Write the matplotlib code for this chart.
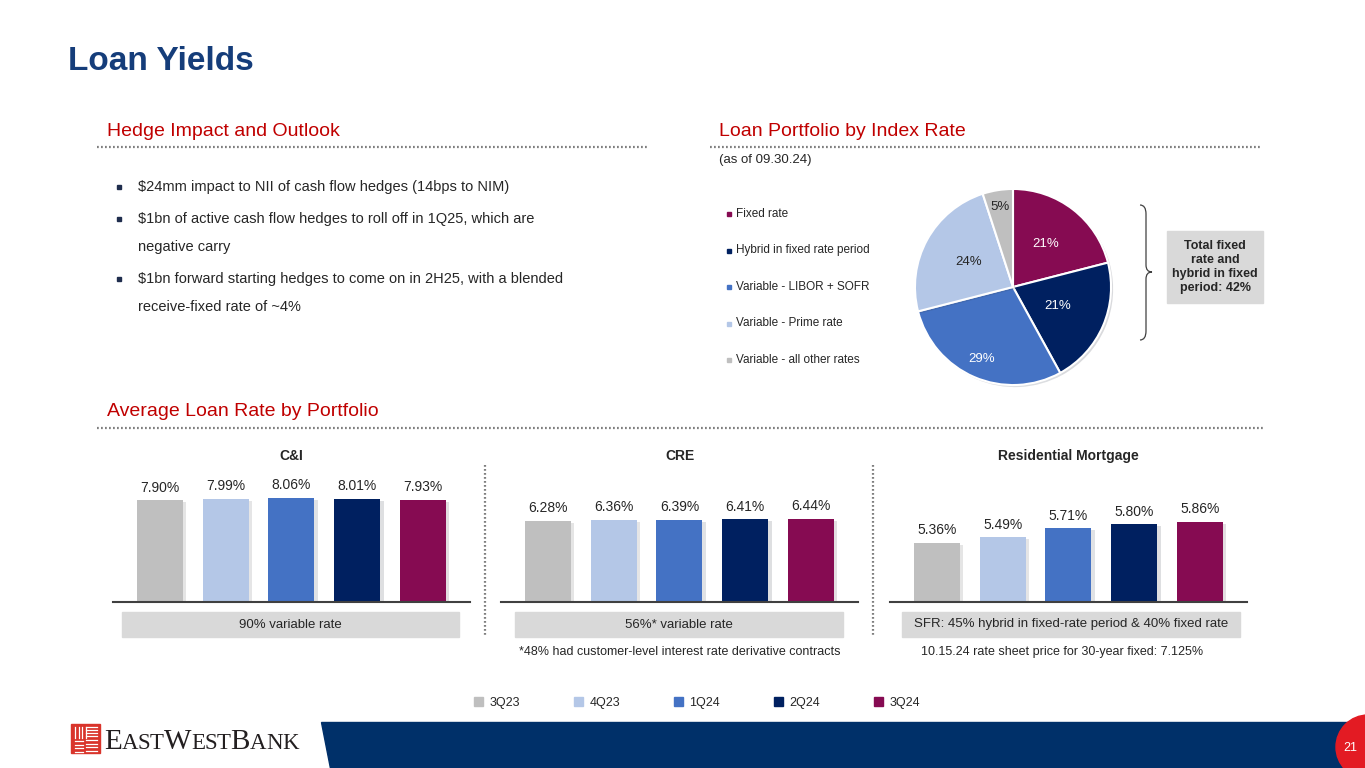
import matplotlib
matplotlib.use('Agg')
import matplotlib.pyplot as plt
import matplotlib.patheffects as pe
from matplotlib.patches import Rectangle, Polygon, Circle, PathPatch, Patch
from matplotlib.path import Path

plt.rcParams['font.family'] = ['Liberation Sans', 'DejaVu Sans']

# ---- data ----
quarters = ['3Q23', '4Q23', '1Q24', '2Q24', '3Q24']
ci_rate = [7.90, 7.99, 8.06, 8.01, 7.93]
cre_rate = [6.28, 6.36, 6.39, 6.41, 6.44]
resi_rate = [5.36, 5.49, 5.71, 5.80, 5.86]

index_labels = ['Fixed rate', 'Hybrid in fixed rate period', 'Variable - LIBOR + SOFR',
                'Variable - Prime rate', 'Variable - all other rates']
index_share = [21, 21, 29, 24, 5]

bullets = ['$24mm impact to NII of cash flow hedges (14bps to NIM)',
           '$1bn of active cash flow hedges to roll off in 1Q25, which are\nnegative carry',
           '$1bn forward starting hedges to come on in 2H25, with a blended\nreceive-fixed rate of ~4%']

q_colors = ['#BFBFBF', '#B4C7E7', '#4472C4', '#002060', '#860B52']
NAVY = '#153D7A'
RED = '#C00000'
TXT = '#262626'

W, H = 1365, 768
fig = plt.figure(figsize=(W / 100, H / 100), dpi=100)
ax0 = fig.add_axes([0, 0, 1, 1])
ax0.set_xlim(0, W)
ax0.set_ylim(H, 0)
ax0.axis('off')


def px_axes(left, top, width, height):
    return fig.add_axes([left / W, 1 - (top + height) / H, width / W, height / H])


def dotted(x0, x1, y0, y1):
    ax0.plot([x0, x1], [y0, y1], color='#7F7F7F', lw=1.6, ls=(0, (0.8, 1.0)))


# title + section headers
ax0.text(68, 62, 'Loan Yields', fontsize=24, fontweight='bold', color=NAVY, va='center')
ax0.text(107, 131, 'Hedge Impact and Outlook', fontsize=14, color=RED, va='center')
ax0.text(719, 131, 'Loan Portfolio by Index Rate', fontsize=14, color=RED, va='center')
ax0.text(107, 411, 'Average Loan Rate by Portfolio', fontsize=14, color=RED, va='center')
dotted(97, 648, 147, 147)
dotted(710, 1262, 147, 147)
dotted(97, 1265, 428, 428)

# bullets
by = 187
for b in bullets:
    ax0.plot(119, by, marker='s', ms=3, color='#1F2D4D')
    for line in b.split('\n'):
        ax0.text(138, by, line, fontsize=10.5, color=TXT, va='center')
        by += 28
    by += 4

# pie section
ax0.text(719, 160, '(as of 09.30.24)', fontsize=9.5, color=TXT, va='center')
for i, lab in enumerate(index_labels):
    y = 214 + 36.5 * i
    ax0.plot(729, y, marker='s', ms=3, color=q_colors[[4, 3, 2, 1, 0][i]])
    ax0.text(736, y, lab, fontsize=8.5, color=TXT, va='center')

pie_colors = ['#860B52', '#002060', '#4472C4', '#B4C7E7', '#BFBFBF']
axp = px_axes(913, 187, 200, 200)
wedges, _, autotexts = axp.pie(index_share, colors=pie_colors, startangle=90, counterclock=False,
                               autopct='%d%%', pctdistance=0.6,
                               wedgeprops=dict(edgecolor='white', linewidth=1.5),
                               textprops=dict(fontsize=9.5))
for w in wedges:
    w.set_path_effects([pe.SimplePatchShadow(offset=(1.5, -1.5), alpha=0.15), pe.Normal()])
dist = [0.55, 0.5, 0.8, 0.52, 0.83]
for t, d, c in zip(autotexts, dist, ['white', 'white', 'white', TXT, TXT]):
    x, y = t.get_position()
    r = (x ** 2 + y ** 2) ** 0.5
    t.set_position((x / r * d, y / r * d))
    t.set_color(c)
axp.set_xlim(-1.02, 1.02)
axp.set_ylim(-1.02, 1.02)

# brace + box
verts = [(1140, 205), (1146, 205), (1146, 214), (1146, 265), (1146, 272), (1152, 272),
         (1146, 272), (1146, 279), (1146, 331), (1146, 340), (1140, 340)]
codes = [Path.MOVETO, Path.CURVE3, Path.CURVE3, Path.LINETO, Path.CURVE3, Path.CURVE3,
         Path.CURVE3, Path.CURVE3, Path.LINETO, Path.CURVE3, Path.CURVE3]
ax0.add_patch(PathPatch(Path(verts, codes), fill=False, edgecolor='#404040', lw=0.9))
ax0.add_patch(Rectangle((1167, 231), 96, 72, color='#D9D9D9'))
ax0.text(1215, 267, 'Total fixed\nrate and\nhybrid in fixed\nperiod: 42%', fontsize=9,
         fontweight='bold', color=TXT, ha='center', va='center', linespacing=1.25)

# bar panels
panels = [('C&I', ci_rate, 160, 0.0, '90% variable rate', (122, 459)),
          ('CRE', cre_rate, 548, 0.0, '56%* variable rate', (515, 843)),
          ('Residential Mortgage', resi_rate, 937, 3.95, 'SFR: 45% hybrid in fixed-rate period & 40% fixed rate', (902, 1240))]
step = 65.75
for title, vals, c0, ymin, note, (bx0, bx1) in panels:
    left = c0 - 0.715 * step
    ax = px_axes(left, 472, 357, 130)
    bars = ax.bar(range(len(vals)), vals, width=0.7, color=q_colors)
    for b in bars:
        b.set_path_effects([pe.SimplePatchShadow(offset=(2.5, -1.5), alpha=0.13), pe.Normal()])
    for i, v in enumerate(vals):
        ax.annotate(f'{v:.2f}%', (i, v), xytext=(0, 4), textcoords='offset points',
                    ha='center', va='bottom', fontsize=10, color=TXT)
    ax.set_xlim(-0.715, 4.715)
    ax.set_ylim(ymin, ymin + 130 / (12.9 if ymin == 0 else 42))
    for s in ['top', 'right', 'left']:
        ax.spines[s].set_visible(False)
    ax.spines['bottom'].set_color('#404040')
    ax.spines['bottom'].set_linewidth(1.5)
    ax.set_xticks([])
    ax.set_yticks([])
    ax.patch.set_alpha(0)
    ax0.text(c0 + 2 * step, 456, title, fontsize=10, fontweight='bold', color=TXT,
             ha='center', va='center')
    ax0.add_patch(Rectangle((bx0, 612), bx1 - bx0, 25, color='#D9D9D9'))
    ax0.text((bx0 + bx1) / 2, 624.5, note, fontsize=9.5, color=TXT, ha='center', va='center')

dotted(485, 485, 465, 637)
dotted(873, 873, 465, 637)
ax0.text(680, 652, '*48% had customer-level interest rate derivative contracts', fontsize=9,
         color=TXT, ha='center', va='center')
ax0.text(921, 652, '10.15.24 rate sheet price for 30-year fixed: 7.125%', fontsize=9,
         color=TXT, va='center')

# bottom legend
handles = [Patch(color=c) for c in q_colors]
fig.legend(handles, quarters, ncol=5, loc='center', bbox_to_anchor=(697 / W, 1 - 703 / H),
           frameon=False, fontsize=9, handlelength=0.75, handleheight=0.75,
           handletextpad=0.5, columnspacing=4.3, labelcolor=TXT)

# footer
ax0.add_patch(Polygon([(321, 722), (W, 722), (W, H), (330, H)], color='#003069'))
ax0.add_patch(Circle((1368, 747), 32, color='#E31B23', clip_on=False))
ax0.text(1350, 748, '21', fontsize=9, color='white', ha='center', va='center')

# logo
ax0.add_patch(Rectangle((71, 724), 29, 29, color='#D9342B'))
for k in range(4):
    ax0.plot([75 + 3.5 * k, 75 + 3.5 * k], [727, 738], color='white', lw=0.9)
    ax0.plot([86, 97], [740 + 3.5 * k, 740 + 3.5 * k], color='white', lw=0.9)
    ax0.plot([86, 97], [727 + 3 * k, 727 + 3 * k], color='white', lw=0.9)
    ax0.plot([75, 83], [741 + 3.5 * k, 741 + 3.5 * k], color='white', lw=0.9)

renderer = fig.canvas.get_renderer()
x = 104
for word in ['EAST', 'WEST', 'BANK']:
    for j, ch in enumerate(word):
        t = ax0.text(x, 749, ch, fontsize=21 if j == 0 else 16.5, family='Liberation Serif',
                     color='#231F20', va='baseline')
        x += t.get_window_extent(renderer).width - 0.3

fig.savefig('out.png', dpi=100)
